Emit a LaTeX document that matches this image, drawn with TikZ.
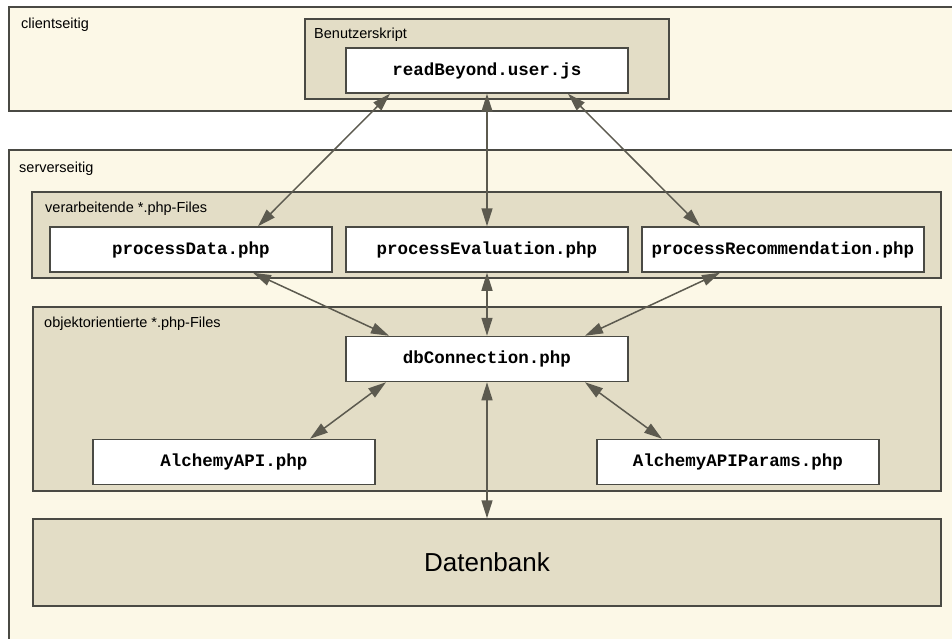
\documentclass[tikz,border=0pt]{standalone}
\usepackage{fontspec}
\setmainfont{Liberation Sans}
\setmonofont{Liberation Mono}
\usetikzlibrary{arrows.meta,calc}

\definecolor{cream}{HTML}{FCF8E7}
\definecolor{tan}{HTML}{E3DDC6}
\definecolor{edge}{HTML}{4A4A44}
\definecolor{arrowgray}{HTML}{5C5A4F}

\tikzset{
  area/.style={draw=edge,line width=1.5pt,fill=cream,rectangle,inner sep=0pt},
  group/.style={draw=edge,line width=1.5pt,fill=tan,rectangle,inner sep=0pt},
  filebox/.style={draw=edge,line width=1.5pt,fill=white,rectangle,inner sep=0pt,
    minimum width=282pt,minimum height=45pt,font=\fontsize{17.5}{19}\selectfont\ttfamily\bfseries},
  caption/.style={anchor=base west,inner sep=0pt,font=\fontsize{14.5}{16}\selectfont},
  link/.style={{Triangle[length=18pt,width=11pt]}-{Triangle[length=18pt,width=11pt]},line width=1.5pt,draw=arrowgray,fill=arrowgray}
}

\begin{document}
\begin{tikzpicture}[x=1pt,y=-1pt]
\useasboundingbox (0,0) rectangle (952,639);
\clip (0,0) rectangle (952,639);
% areas
\node (client) at (484.5,59) [area,minimum width=951pt,minimum height=104pt] {};
\node at (21,29) [caption] {clientseitig};
\node (server) at (484.5,400) [area,minimum width=951pt,minimum height=500pt] {};
\node at (19,172) [caption] {serverseitig};
% groups
\node (benutzer) at (487,59) [group,minimum width=364pt,minimum height=80pt] {};
\node at (314,39) [caption] {Benutzerskript};
\node (verarb) at (486.5,235) [group,minimum width=909pt,minimum height=86pt] {};
\node at (45,212) [caption] {verarbeitende *.php-Files};
\node (objekt) at (487,399) [group,minimum width=908pt,minimum height=184pt] {};
\node at (44,327) [caption] {objektorientierte *.php-Files};
\node (datenbank) at (487,562.5) [group,minimum width=908pt,minimum height=87pt,
  font=\fontsize{26}{28}\selectfont] {Datenbank};
% files
\node (readbeyond) at (487,70.5) [filebox] {readBeyond.user.js};
\node (procdata) at (191,249.5) [filebox] {processData.php};
\node (proceval) at (487,249.5) [filebox] {processEvaluation.php};
\node (procrec) at (783,249.5) [filebox] {processRecommendation.php};
\node (dbconn) at (487,359) [filebox] {dbConnection.php};
\node (alchemy) at (234,462) [filebox] {AlchemyAPI.php};
\node (alchparams) at (738,462) [filebox] {AlchemyAPIParams.php};
% connections
\draw[link] ($(readbeyond.south)+(-97,0)$) -- ($(procdata.north)+(67,0)$);
\draw[link] (readbeyond.south) -- (proceval.north);
\draw[link] ($(readbeyond.south)+(81,0)$) -- ($(procrec.north)+(-83,0)$);
\draw[link] ($(procdata.south)+(62,0)$) -- ($(dbconn.north)+(-98,0)$);
\draw[link] (proceval.south) -- (dbconn.north);
\draw[link] ($(procrec.south)+(-63,0)$) -- ($(dbconn.north)+(98,0)$);
\draw[link] ($(dbconn.south)+(-101,0)$) -- ($(alchemy.north)+(76,0)$);
\draw[link] ($(dbconn.south)+(98,0)$) -- ($(alchparams.north)+(-76,0)$);
\draw[link] (dbconn.south) -- (datenbank.north);
\end{tikzpicture}
\end{document}
